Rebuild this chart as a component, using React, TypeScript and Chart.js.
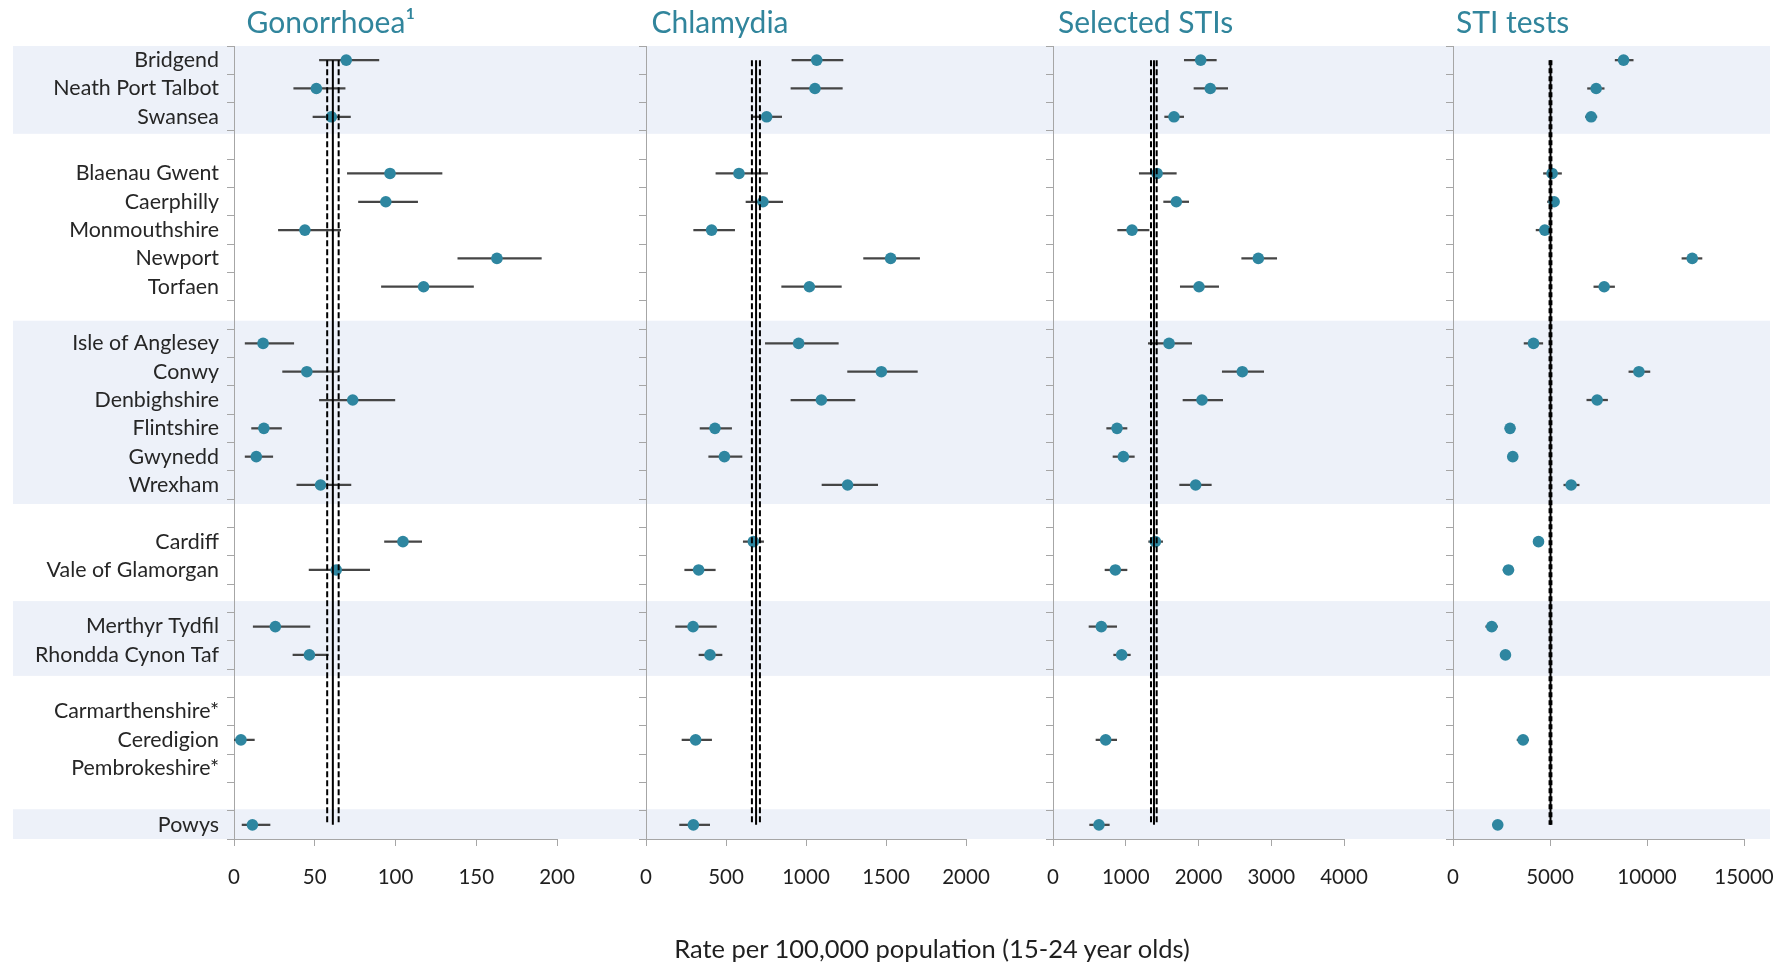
import React, { useEffect, useRef } from 'react';
import { Chart, registerables } from 'chart.js';

Chart.register(...registerables);

// ---------- categories (blank entries separate health boards) ----------
const districts = [
  'Bridgend', 'Neath Port Talbot', 'Swansea', '',
  'Blaenau Gwent', 'Caerphilly', 'Monmouthshire', 'Newport', 'Torfaen', '',
  'Isle of Anglesey', 'Conwy', 'Denbighshire', 'Flintshire', 'Gwynedd', 'Wrexham', '',
  'Cardiff', 'Vale of Glamorgan', '',
  'Merthyr Tydfil', 'Rhondda Cynon Taf', '',
  'Carmarthenshire*', 'Ceredigion', 'Pembrokeshire*', '',
  'Powys',
];

// shaded health-board bands, as category-axis extents (start / end)
const bandStart = [-0.5, 9.2, 19.1, 26.45];
const bandEnd = [2.6, 15.67, 21.74, 27.5];

// ---------- Gonorrhoea ----------
const gonoRate = [69.5, 51.0, 60.3, null, 96.6, 94.0, 43.9, 162.8, 117.4, null, 18.0, 45.1, 73.5, 18.5, 13.8, 53.6, null, 104.6, 63.3, null, 25.6, 46.7, null, null, 4.3, null, null, 11.4];
const gonoLow = [52.9, 37.0, 48.9, null, 70.2, 77.1, 27.5, 138.6, 91.3, null, 6.9, 30.1, 52.9, 10.9, 6.9, 38.9, null, 93.2, 46.5, null, 11.9, 36.5, null, null, 0.2, null, null, 5.0];
const gonoHigh = [89.7, 68.8, 72.1, null, 128.8, 113.7, 66.0, 190.3, 148.3, null, 37.0, 64.5, 99.6, 29.4, 24.0, 72.4, null, 116.2, 84.0, null, 47.0, 58.4, null, null, 12.6, null, null, 22.3];
const gonoWales = [57.7, 61.2, 64.8];

// ---------- Chlamydia ----------
const chlamRate = [1067, 1056, 754, null, 581, 731, 410, 1529, 1021, null, 954, 1471, 1096, 431, 490, 1260, null, 671, 329, null, 294, 400, null, null, 310, null, null, 296];
const chlamLow = [912, 906, 662, null, 437, 625, 298, 1360, 848, null, 746, 1260, 906, 338, 392, 1100, null, 608, 242, null, 185, 331, null, null, 225, null, null, 210];
const chlamHigh = [1231, 1227, 848, null, 760, 854, 554, 1710, 1221, null, 1202, 1696, 1306, 535, 600, 1448, null, 735, 433, null, 440, 475, null, null, 410, null, null, 398];
const chlamWales = [662, 688, 712];

// ---------- Selected STIs ----------
const stiRate = [2030, 2162, 1663, null, 1430, 1695, 1086, 2822, 2007, null, 1595, 2602, 2048, 880, 967, 1961, null, 1407, 857, null, 664, 944, null, null, 724, null, null, 632];
const stiLow = [1805, 1938, 1535, null, 1186, 1521, 889, 2594, 1750, null, 1310, 2327, 1787, 738, 825, 1741, null, 1315, 715, null, 495, 834, null, null, 591, null, null, 504];
const stiHigh = [2245, 2401, 1796, null, 1695, 1865, 1320, 3075, 2277, null, 1906, 2896, 2332, 1017, 1118, 2176, null, 1507, 1017, null, 875, 1063, null, null, 875, null, null, 774];
const stiWales = [1347, 1388, 1425];

// ---------- STI tests ----------
const testRate = [8792, 7379, 7121, null, 5108, 5212, 4732, 12332, 7792, null, 4149, 9582, 7430, 2941, 3080, 6089, null, 4407, 2858, null, 1997, 2704, null, null, 3612, null, null, 2306];
const testLow = [8359, 6935, 6832, null, 4665, 4871, 4283, 11801, 7260, null, 3664, 9066, 6899, 2850, 3000, 5712, null, 4300, 2580, null, 1687, 2600, null, null, 3302, null, null, 2064];
const testHigh = [9288, 7792, 7415, null, 5593, 5418, 5026, 12833, 8328, null, 4628, 10150, 7967, 3030, 3170, 6502, null, 4520, 3132, null, 2291, 2800, null, null, 3891, null, null, 2549];
const testWales = [4990, 5026, 5060];

const axisTitle = 'Rate per 100,000 population (15-24 year olds)';

const TEAL = '#2E86A0';
const TITLE_TEAL = '#31859C';
const AXIS_GREY = '#A6A6A6';
const BAND = '#EDF1F9';
const FONT = 'Lato, "Open Sans", sans-serif';

type Panel = {
  title: string;
  rate: (number | null)[];
  low: (number | null)[];
  high: (number | null)[];
  wales: number[];
  max: number;
  step: number;
  left: number;
  width: number;
  chartLeft: number;
  chartRight: number;
  showLabels: boolean;
  titleX: number;
  bandFrom: number;
  bandTo: number;
  dash: number[];
  dashWidth: number;
};

const panels: Panel[] = [
  { title: 'Gonorrhoea\u00B9', rate: gonoRate, low: gonoLow, high: gonoHigh, wales: gonoWales, max: 200, step: 50,
    left: 0, width: 600, chartLeft: 234, chartRight: 557, showLabels: true, titleX: 246.5, bandFrom: 13, bandTo: 600, dash: [6, 3], dashWidth: 2 },
  { title: 'Chlamydia', rate: chlamRate, low: chlamLow, high: chlamHigh, wales: chlamWales, max: 2000, step: 500,
    left: 600, width: 400, chartLeft: 46, chartRight: 366, showLabels: false, titleX: 51.5, bandFrom: 0, bandTo: 400, dash: [6, 3], dashWidth: 2 },
  { title: 'Selected STIs', rate: stiRate, low: stiLow, high: stiHigh, wales: stiWales, max: 4000, step: 1000,
    left: 1000, width: 400, chartLeft: 53, chartRight: 344, showLabels: false, titleX: 58, bandFrom: 0, bandTo: 400, dash: [6, 3], dashWidth: 2 },
  { title: 'STI tests', rate: testRate, low: testLow, high: testHigh, wales: testWales, max: 15000, step: 5000,
    left: 1400, width: 389, chartLeft: 53, chartRight: 344, showLabels: false, titleX: 56, bandFrom: 0, bandTo: 370, dash: [5, 3], dashWidth: 2.5 },
];

const CHART_TOP = 46;
const CHART_BOTTOM = 839;
const HEIGHT = 964;
const X_AXIS_H = 60;

const bandPlugin = {
  id: 'bands',
  beforeDraw(chart: any, _args: any, opts: any) {
    const y = chart.scales.y;
    const ctx = chart.ctx;
    ctx.save();
    ctx.fillStyle = BAND;
    bandStart.forEach((s, k) => {
      const top = y.getPixelForValue(s);
      const bot = y.getPixelForValue(bandEnd[k]);
      ctx.fillRect(opts.from, top, opts.to - opts.from, bot - top);
    });
    ctx.restore();
  },
};

const titlePlugin = {
  id: 'panelTitle',
  afterDraw(chart: any, _args: any, opts: any) {
    const ctx = chart.ctx;
    ctx.save();
    ctx.font = `30px ${FONT}`;
    ctx.fillStyle = TITLE_TEAL;
    ctx.textAlign = 'left';
    ctx.textBaseline = 'alphabetic';
    ctx.fillText(opts.text, opts.x, 33);
    ctx.restore();
  },
};

function refLine(v: number) {
  return districts.map((_, i) => (i === 0 || i === districts.length - 1 ? v : null));
}

function PanelChart({ p }: { p: Panel }) {
  const ref = useRef<HTMLCanvasElement | null>(null);
  useEffect(() => {
    if (!ref.current) return;
    const ci = p.low.map((l, i) => (l == null || p.high[i] == null ? null : [l, p.high[i]]));
    const chart = new Chart(ref.current, {
      type: 'bar',
      data: {
        labels: districts,
        datasets: [
          { type: 'line', label: 'Wales', data: refLine(p.wales[1]) as any, indexAxis: 'y', borderColor: '#000', borderWidth: 2,
            pointRadius: 0, spanGaps: true, order: 0 } as any,
          { type: 'line', label: 'Wales lower', data: refLine(p.wales[0]) as any, indexAxis: 'y', borderColor: '#000', borderWidth: p.dashWidth,
            borderDash: p.dash, pointRadius: 0, spanGaps: true, order: 0 } as any,
          { type: 'line', label: 'Wales upper', data: refLine(p.wales[2]) as any, indexAxis: 'y', borderColor: '#000', borderWidth: p.dashWidth,
            borderDash: p.dash, pointRadius: 0, spanGaps: true, order: 0 } as any,
          { type: 'line', label: 'Rate', data: p.rate as any, indexAxis: 'y', showLine: false, pointRadius: 5.8,
            pointBackgroundColor: TEAL, pointBorderWidth: 0, pointBorderColor: TEAL, order: 1 } as any,
          { type: 'bar', label: '95% CI', data: ci as any, indexAxis: 'y', backgroundColor: '#454545', borderWidth: 0,
            barThickness: 1.6, order: 2 } as any,
        ],
      },
      options: {
        indexAxis: 'y',
        responsive: false,
        maintainAspectRatio: false,
        devicePixelRatio: 1,
        animation: false,
        events: [],
        layout: {
          padding: {
            top: CHART_TOP,
            bottom: HEIGHT - CHART_BOTTOM - X_AXIS_H,
            left: p.showLabels ? 0 : p.chartLeft - 7,
            right: p.width - p.chartRight,
          },
        },
        plugins: {
          legend: { display: false },
          tooltip: { enabled: false },
          bands: { from: p.bandFrom, to: p.bandTo },
          panelTitle: { text: p.title, x: p.titleX },
        } as any,
        scales: {
          x: {
            type: 'linear',
            position: 'bottom',
            min: 0,
            max: p.max,
            ticks: {
              stepSize: p.step,
              padding: 3,
              color: '#1f1f1f',
              font: { family: FONT, size: 20.5, lineHeight: '56px' },
              callback: (v: any) => String(v),
            },
            grid: { drawOnChartArea: false, tickLength: 7, color: AXIS_GREY },
            border: { color: AXIS_GREY, width: 1 },
            afterFit: (s: any) => { s.height = X_AXIS_H; },
          },
          y: {
            type: 'category',
            position: 'left',
            offset: true,
            ticks: { display: p.showLabels, autoSkip: false, padding: 8, color: '#262626', font: { family: FONT, size: 21.4 } },
            grid: { offset: true, drawOnChartArea: false, tickLength: 7, color: AXIS_GREY },
            border: { color: AXIS_GREY, width: 1 },
            afterFit: (s: any) => { s.width = p.showLabels ? p.chartLeft : 7; },
          },
        } as any,
      },
      plugins: [bandPlugin, titlePlugin],
    });
    return () => chart.destroy();
  }, [p]);
  return (
    <canvas
      ref={ref}
      width={p.width}
      height={HEIGHT}
      style={{ position: 'absolute', left: p.left, top: 0, width: p.width, height: HEIGHT }}
    />
  );
}

export default function App() {
  return (
    <div style={{ position: 'absolute', left: 0, top: 0, width: 1789, height: HEIGHT, background: '#fff', overflow: 'hidden' }}>
      {panels.map((p) => (
        <PanelChart key={p.title} p={p} />
      ))}
      <div
        style={{
          position: 'absolute',
          left: 932,
          top: 935,
          transform: 'translateX(-50%)',
          whiteSpace: 'nowrap',
          fontFamily: FONT,
          fontSize: 25.5,
          lineHeight: '26px',
          color: '#1f1f1f',
        }}
      >
        {axisTitle}
      </div>
    </div>
  );
}
